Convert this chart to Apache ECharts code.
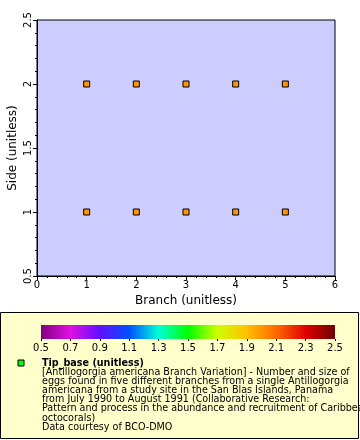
<!DOCTYPE html>
<html><head><meta charset="utf-8">
<script src="https://cdn.jsdelivr.net/npm/echarts@6/dist/echarts.min.js"></script>
<style>html,body{margin:0;padding:0;background:#fff}#c{width:360px;height:440px}</style>
</head><body><div id="c"></div>
<script>
var branch = [1, 2, 3, 4, 5, 1, 2, 3, 4, 5];
var side = [1, 1, 1, 1, 1, 2, 2, 2, 2, 2];
var xTicks = [0, 1, 2, 3, 4, 5, 6];
var yTicks = [0.5, 1, 1.5, 2, 2.5];
var colorbarTicks = [0.5, 0.7, 0.9, 1.1, 1.3, 1.5, 1.7, 1.9, 2.1, 2.3, 2.5];
var colorbarColors = ['#800080', '#e010e0', '#6010ff', '#0050ff', '#00ffd8', '#00ff00', '#d0ff00', '#ffc000', '#ff6a00', '#e00000', '#700000'];
var legendLines = [
  '[Antillogorgia americana Branch Variation] - Number and size of',
  'eggs found in five different branches from a single Antillogorgia',
  'americana from a study site in the San Blas Islands, Panama',
  'from July 1990 to August 1991 (Collaborative Research:',
  'Pattern and process in the abundance and recruitment of Caribbean',
  'octocorals)',
  'Data courtesy of BCO-DMO'
];

var FONT = 'DejaVu Sans';
var pts = branch.map(function (b, i) { return [b, side[i]]; });
var stops = colorbarColors.map(function (c, i) { return { offset: i / (colorbarColors.length - 1), color: c }; });

var chart = echarts.init(document.getElementById('c'), null, { renderer: 'canvas' });
var graphics = [
  { type: 'rect', z: -10, shape: { x: 0.5, y: 312.5, width: 358, height: 126 },
    style: { fill: '#ffffcc', stroke: '#000', lineWidth: 1 } },
  { type: 'rect', z: 10, shape: { x: 18, y: 360, width: 6, height: 6 },
    style: { fill: '#00ff00', stroke: '#000', lineWidth: 1 } },
  { type: 'text', z: 10, x: 42, y: 358,
    style: { text: 'Tip_base (unitless)', font: 'bold 9.6px ' + FONT, fill: '#000' } }
];
legendLines.forEach(function (t, i) {
  graphics.push({ type: 'text', z: 10, x: 42, y: 367.5 + i * 9.1,
    style: { text: t, font: '9.6px ' + FONT, fill: '#000' } });
});

chart.setOption({
  animation: false,
  graphic: graphics,
  grid: [
    { left: 37, right: 25, top: 20, bottom: 164, show: true, backgroundColor: '#ccccff', borderColor: '#000', borderWidth: 1,
      containLabel: false, outerBoundsMode: 'none' },
    { left: 41, width: 294, top: 325, height: 14, show: true, borderWidth: 0, containLabel: false, outerBoundsMode: 'none',
      backgroundColor: { type: 'linear', x: 0, y: 0, x2: 1, y2: 0, colorStops: stops } }
  ],
  xAxis: [
    { gridIndex: 0, type: 'value', min: xTicks[0], max: xTicks[xTicks.length - 1], interval: 1,
      name: 'Branch (unitless)', nameLocation: 'middle', nameGap: 17,
      nameTextStyle: { fontFamily: FONT, fontSize: 12, color: '#000' },
      axisLine: { show: true, lineStyle: { color: '#000' } },
      axisTick: { show: true, length: 4, lineStyle: { color: '#000' } },
      minorTick: { show: true, splitNumber: 5, length: 2, lineStyle: { color: '#000' } },
      splitLine: { show: false },
      axisLabel: { fontFamily: FONT, fontSize: 10, color: '#000', margin: 4 } },
    { gridIndex: 1, type: 'value', min: colorbarTicks[0], max: colorbarTicks[colorbarTicks.length - 1], interval: 0.2,
      axisLine: { show: false },
      axisTick: { show: true, length: 2, lineStyle: { color: '#000' } },
      splitLine: { show: false },
      axisLabel: { fontFamily: FONT, fontSize: 10, color: '#000', margin: 4,
        formatter: function (v) { return v.toFixed(1); } } }
  ],
  yAxis: [
    { gridIndex: 0, type: 'value', min: yTicks[0], max: yTicks[yTicks.length - 1], interval: 0.5,
      name: 'Side (unitless)', nameLocation: 'middle', nameGap: 18, nameRotate: 90, nameMoveOverlap: false,
      nameTextStyle: { fontFamily: FONT, fontSize: 12, color: '#000' },
      axisLine: { show: true, lineStyle: { color: '#000' } },
      axisTick: { show: true, length: 4, lineStyle: { color: '#000' } },
      minorTick: { show: true, splitNumber: 5, length: 2, lineStyle: { color: '#000' } },
      splitLine: { show: false },
      axisLabel: { fontFamily: FONT, fontSize: 10, color: '#000', margin: 4, rotate: 90,
        formatter: function (v) { return String(v); } } },
    { gridIndex: 1, type: 'value', show: false, min: 0, max: 1 }
  ],
  series: [
    { type: 'scatter', xAxisIndex: 0, yAxisIndex: 0, data: pts, symbol: 'rect', symbolSize: 6,
      itemStyle: { color: '#ff9400', borderColor: '#000', borderWidth: 1, opacity: 1 } }
  ]
});
</script></body></html>
